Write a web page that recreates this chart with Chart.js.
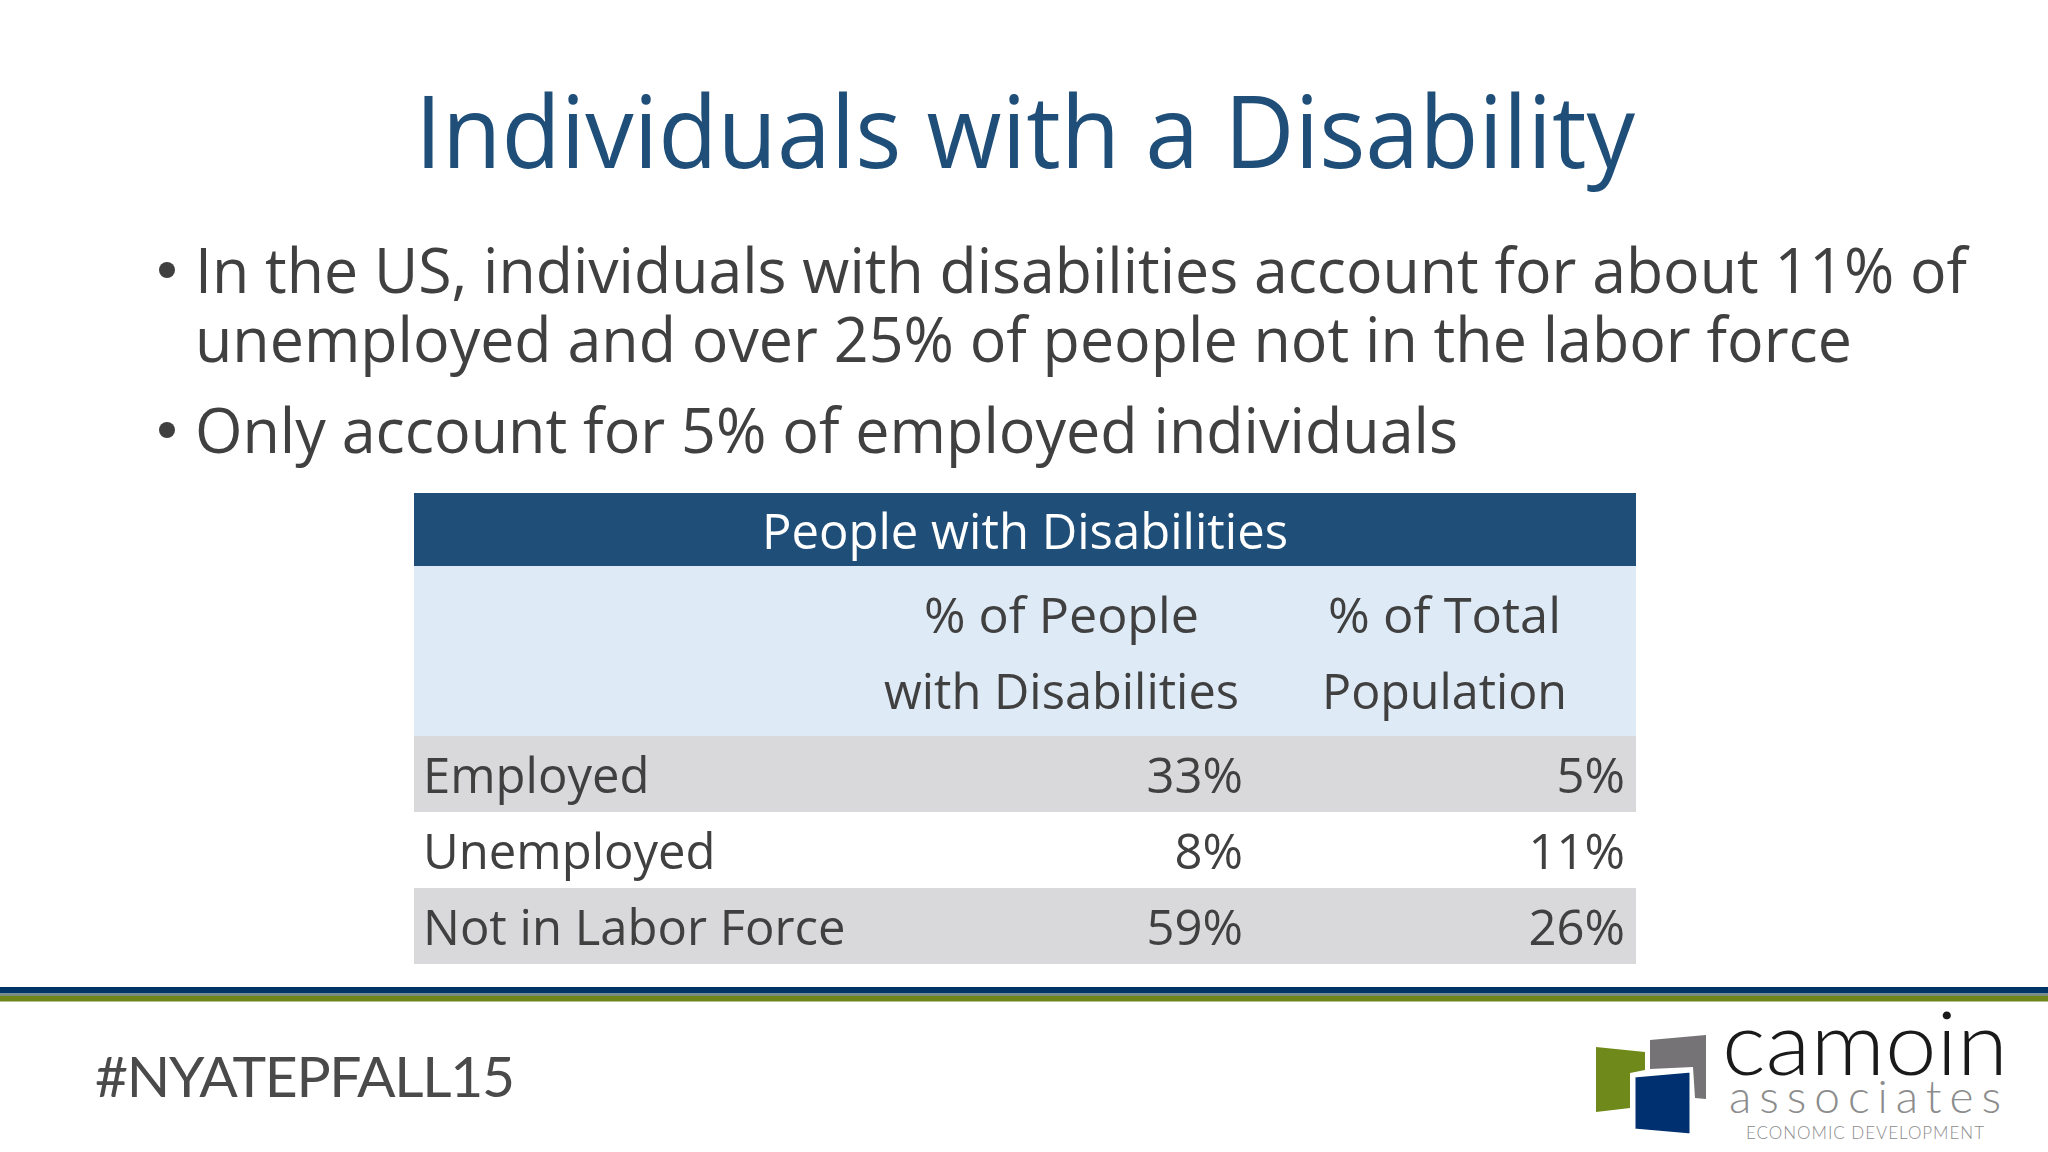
<!DOCTYPE html>
<html>
<head>
<meta charset="utf-8">
<title>Individuals with a Disability</title>
<script src="https://cdn.jsdelivr.net/npm/chart.js@4"></script>
<style>
  html, body { margin: 0; padding: 0; background: #fff; }
  #slide { position: absolute; left: 0; top: 0; width: 2048px; height: 1152px; overflow: hidden; background: #fff; }
  #slide svg { position: absolute; left: 0; top: 0; }
  #tableChart { position: absolute; left: 414px; top: 736px; }
  text { font-family: "Open Sans", sans-serif; fill: #404040; }
</style>
</head>
<body>
<div id="slide">
  <svg width="2048" height="1152" xmlns="http://www.w3.org/2000/svg">
    <text x="415" y="168" font-size="100" textLength="1220" lengthAdjust="spacingAndGlyphs" style="fill:#1f4e79">Individuals with a Disability</text>

    <circle cx="167" cy="270" r="8" fill="#404040"/>
    <circle cx="167" cy="430" r="8" fill="#404040"/>
    <text x="195" y="293" font-size="62" textLength="1772" lengthAdjust="spacingAndGlyphs">In the US, individuals with disabilities account for about 11% of</text>
    <text x="195" y="362" font-size="62" textLength="1657" lengthAdjust="spacingAndGlyphs">unemployed and over 25% of people not in the labor force</text>
    <text x="195" y="453" font-size="62" textLength="1263" lengthAdjust="spacingAndGlyphs">Only account for 5% of employed individuals</text>

    <rect x="414" y="493" width="1222" height="73" fill="#1f4e79"/>
    <rect x="414" y="566" width="1222" height="170" fill="#deeaf6"/>
    <text x="762" y="549" font-size="49" textLength="526" lengthAdjust="spacingAndGlyphs" style="fill:#fff">People with Disabilities</text>
    <text x="924" y="633" font-size="49" textLength="275" lengthAdjust="spacingAndGlyphs">% of People</text>
    <text x="884" y="709" font-size="49" textLength="355" lengthAdjust="spacingAndGlyphs">with Disabilities</text>
    <text x="1328" y="633" font-size="49" textLength="233" lengthAdjust="spacingAndGlyphs">% of Total</text>
    <text x="1322" y="709" font-size="49" textLength="245" lengthAdjust="spacingAndGlyphs">Population</text>

    <rect x="0" y="987" width="2048" height="6.5" fill="#003366"/>
    <rect x="0" y="993.5" width="2048" height="2.5" fill="#7a8a80"/>
    <rect x="0" y="996" width="2048" height="5.5" fill="#6f8419"/>

    <text x="95" y="1097" textLength="420" lengthAdjust="spacing" font-size="57" style="font-family:Lato,sans-serif;fill:#4a4a4a">#NYATEPFALL15</text>

    <polygon points="1596,1047 1645,1052 1645,1070 1630,1073 1630,1108 1596,1112" fill="#6f8a1a"/>
    <polygon points="1650,1040 1706,1035 1706,1099 1695,1098 1693,1067 1650,1069" fill="#757375"/>
    <polygon points="1634,1076 1691,1071 1691,1135 1634,1130" fill="#003070" stroke="#fff" stroke-width="3"/>
    <text x="1722" y="1075" font-size="89" textLength="286" lengthAdjust="spacingAndGlyphs" style="font-family:Lato,sans-serif;font-weight:300;fill:#1a1a1a">camoin</text>
    <text x="1729" y="1113" font-size="46" textLength="272" lengthAdjust="spacing" style="font-family:Lato,sans-serif;font-weight:300;fill:#8c8c8c">associates</text>
    <text x="1746" y="1139" font-size="17" textLength="238" lengthAdjust="spacing" style="font-family:Lato,sans-serif;font-weight:300;fill:#8c8c8c">ECONOMIC DEVELOPMENT</text>
  </svg>
  <canvas id="tableChart" width="1222" height="228"></canvas>
</div>
<script>
const rowLabels = ['Employed', 'Unemployed', 'Not in Labor Force'];
const pctOfDisabled = [33, 8, 59];
const pctOfTotal = [5, 11, 26];

const textColor = '#404040';
const cellFont = '49px "Open Sans", sans-serif';
const labelLeft = 9;
const columnRight = [829, 1211];
const textDrop = 5;

const tableCells = {
  id: 'tableCells',
  beforeDraw(chart) {
    const { ctx, chartArea, scales } = chart;
    const rowH = scales.y.getPixelForValue(1) - scales.y.getPixelForValue(0);
    ctx.save();
    ctx.fillStyle = '#d9d9db';
    rowLabels.forEach((r, i) => {
      if (i % 2 === 0) {
        ctx.fillRect(chartArea.left, scales.y.getPixelForValue(i) - rowH / 2, chartArea.width, rowH);
      }
    });
    ctx.restore();
  },
  afterDatasetsDraw(chart) {
    const { ctx, scales } = chart;
    ctx.save();
    ctx.font = cellFont;
    ctx.fillStyle = textColor;
    ctx.textBaseline = 'middle';
    ctx.textAlign = 'left';
    chart.data.labels.forEach((l, i) => {
      ctx.fillText(l, labelLeft, scales.y.getPixelForValue(i) + textDrop);
    });
    ctx.textAlign = 'right';
    chart.data.datasets.forEach((ds, c) => {
      ds.data.forEach((v, i) => {
        ctx.fillText(v + '%', columnRight[c], scales.y.getPixelForValue(i) + textDrop);
      });
    });
    ctx.restore();
  },
};

new Chart(document.getElementById('tableChart'), {
  type: 'bar',
  data: {
    labels: rowLabels,
    datasets: [
      { label: '% of People with Disabilities', data: pctOfDisabled, backgroundColor: 'transparent' },
      { label: '% of Total Population', data: pctOfTotal, backgroundColor: 'transparent' },
    ],
  },
  options: {
    indexAxis: 'y',
    responsive: false,
    animation: false,
    layout: { padding: 0 },
    plugins: { legend: { display: false }, tooltip: { enabled: false } },
    scales: {
      x: { display: false, min: 0, max: 100 },
      y: { display: false },
    },
  },
  plugins: [tableCells],
});
</script>
</body>
</html>
